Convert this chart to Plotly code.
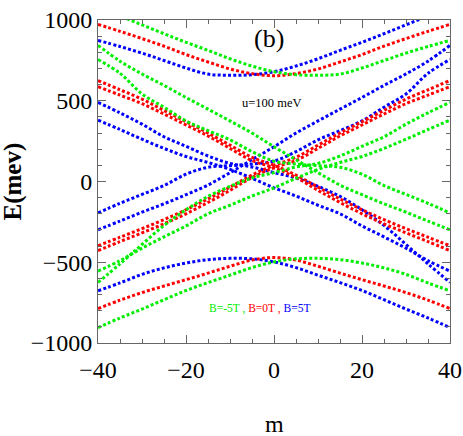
import plotly.graph_objects as go

# angular momentum quantum number m (knots read every 5 units)
m = [-40, -35, -30, -25, -20, -15, -10, -5, 0, 5, 10, 15, 20, 25, 30, 35, 40]

# B = 0 T (red)
red_c = [973, 930, 885, 838, 786, 740, 697, 668, 655, 668, 697, 740, 786, 838, 885, 930, 973]
red_v = [-787, -735, -688, -647, -608, -567, -525, -486, -471, -486, -525, -567, -608, -647, -688, -735, -787]
red_up1 = [-398, -345, -292, -236, -175, -108, -35, 40, 100, 150, 225, 300, 370, 440, 510, 568, 625]
red_up2 = [-428, -372, -318, -262, -200, -130, -55, 25, 85, 130, 205, 282, 350, 418, 482, 535, 587]
red_dn1 = [625, 568, 510, 440, 370, 300, 225, 150, 100, 40, -35, -108, -175, -236, -292, -345, -398]
red_dn2 = [587, 535, 482, 418, 350, 282, 205, 130, 85, 25, -55, -130, -200, -262, -318, -372, -428]

# B = 5 T (blue)
blue_c = [874, 836, 795, 749, 703, 665, 658, 661, 680, 715, 760, 812, 862, 915, 970, 1025, 1080]
blue_v = [-677, -628, -575, -535, -505, -484, -476, -479, -498, -533, -580, -626, -675, -732, -790, -845, -905]
blue_q = [-299, -245, -190, -138, -82, -22, 55, 135, 215, 300, 375, 448, 520, 595, 666, 745, 843]
blue_p = [-195, -135, -80, -25, 45, 88, 98, 108, 126, 185, 258, 315, 375, 460, 542, 670, 755]
blue_f1 = [490, 425, 355, 277, 218, 158, 112, 90, 55, 22, -30, -92, -175, -272, -390, -510, -625]
blue_f2 = [380, 322, 262, 205, 155, 118, 75, 20, -39, -90, -147, -200, -275, -343, -413, -490, -555]

# B = -5 T (green)
green_c = [1080, 1025, 970, 915, 862, 812, 760, 715, 680, 661, 658, 665, 703, 749, 795, 836, 874]
green_v = [-905, -845, -790, -732, -675, -626, -580, -533, -498, -479, -476, -484, -505, -535, -575, -628, -677]
green_q = [843, 745, 666, 595, 520, 448, 375, 300, 215, 135, 55, -22, -82, -138, -190, -245, -299]
green_p = [755, 670, 542, 460, 375, 315, 258, 185, 126, 108, 98, 88, 45, -25, -80, -135, -195]
green_f1 = [-625, -510, -390, -272, -175, -92, -30, 22, 55, 90, 112, 158, 218, 277, 355, 425, 490]
green_f2 = [-555, -490, -413, -343, -275, -200, -147, -90, -39, 20, 75, 118, 155, 205, 262, 322, 380]

BLUE = "#0000ff"
RED = "#ff0000"
GREEN = "#00ee00"
SERIF = "Liberation Serif"

series = [
    (BLUE, [blue_c, blue_v, blue_q, blue_p, blue_f1, blue_f2]),
    (RED, [red_c, red_v, red_up1, red_up2, red_dn1, red_dn2]),
    (GREEN, [green_c, green_v, green_q, green_p, green_f1, green_f2]),
]

fig = go.Figure()
for color, curves in series:
    for ys in curves:
        fig.add_trace(go.Scatter(
            x=m, y=ys, mode="lines",
            line=dict(color=color, width=3, dash="3px,2.2px", shape="spline", smoothing=1.0),
            showlegend=False, hoverinfo="skip"))

axis_common = dict(
    showline=True, linecolor="#666", linewidth=1, mirror="ticks",
    ticks="inside", ticklen=8, tickwidth=1, tickcolor="#666",
    showgrid=False, zeroline=False, automargin=False, ticklabeloverflow="allow",
    tickfont=dict(family=SERIF, size=24, color="black"),
)

fig.update_layout(
    width=463, height=436,
    margin=dict(l=98, r=13, t=20, b=93),
    paper_bgcolor="white", plot_bgcolor="white",
    font=dict(family=SERIF),
    xaxis=dict(range=[-40, 40], tickvals=[-40, -20, 0, 20, 40], ticklabelstandoff=5,
               minor=dict(dtick=5, ticks="inside", ticklen=4, tickcolor="#666", showgrid=False),
               **axis_common),
    yaxis=dict(range=[-1000, 1000], tickvals=[-1000, -500, 0, 500, 1000],
               minor=dict(dtick=100, ticks="inside", ticklen=4, tickcolor="#666", showgrid=False),
               **axis_common),
    annotations=[
        dict(text="(b)", x=-1.2, y=884, xref="x", yref="y", showarrow=False,
             font=dict(family=SERIF, size=26, color="black")),
        dict(text="u=100 meV", x=-0.5, y=489, xref="x", yref="y", showarrow=False,
             font=dict(family=SERIF, size=12.5, color="black")),
        dict(text="<span style='color:#00ee00'>B=-5T ,</span> <span style='color:#ff0000'>B=0T ,</span> <span style='color:#0000ff'>B=5T</span>",
             x=-3.2, y=-788, xref="x", yref="y", showarrow=False,
             font=dict(family=SERIF, size=11.5)),
        dict(text="<b>E(mev)</b>", x=-0.2415, y=0.5, xref="paper", yref="paper",
             textangle=-90, showarrow=False, xanchor="center", yanchor="middle",
             font=dict(family=SERIF, size=25, color="black")),
        dict(text="m", x=0.5, y=-0.252, xref="paper", yref="paper",
             showarrow=False, xanchor="center", yanchor="middle",
             font=dict(family=SERIF, size=24, color="black")),
    ],
)

fig.write_html("out.html", config={"displayModeBar": False},
               post_script="document.body.style.margin='0';document.body.style.overflow='hidden';")
